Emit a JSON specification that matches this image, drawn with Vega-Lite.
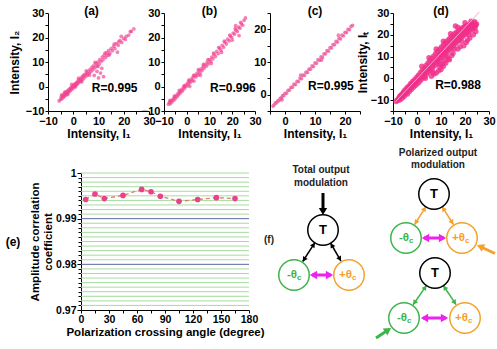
{
"$schema": "https://vega.github.io/schema/vega-lite/v6.json",
"padding": {"left": 5, "top": 5, "right": 0, "bottom": 0},
"config": {
  "font": "Liberation Sans",
  "view": {"stroke": null},
  "axis": {"grid": false, "domainColor": "#000", "tickColor": "#000", "labelColor": "#000", "titleColor": "#000", "labelFontWeight": "bold", "titleFontWeight": "bold", "labelFontSize": 11, "titleFontSize": 12, "tickSize": 3, "labelPadding": 1, "titlePadding": 2, "labelFlush": false, "labelOverlap": false, "labelBound": false, "tickCount": 100},
  "title": {"fontSize": 12, "fontWeight": "bold", "color": "#000", "offset": -11}
},
"datasets": {
  "pa": [{"x":-5.6,"y":-5.9},{"x":-5,"y":-5.3},{"x":-4.8,"y":-4.2},{"x":-4.5,"y":-5},{"x":-4.2,"y":-3.8},{"x":-4,"y":-4.5},{"x":-3.7,"y":-3.2},{"x":-3.5,"y":-4},{"x":-3.2,"y":-2.8},{"x":-3,"y":-3.5},{"x":-2.8,"y":-2.2},{"x":-2.5,"y":-3},{"x":-2.3,"y":-1.8},{"x":-2,"y":-2.6},{"x":-1.8,"y":-1.3},{"x":-1.5,"y":-2},{"x":-1.2,"y":-0.8},{"x":-1,"y":-1.5},{"x":-0.8,"y":-0.3},{"x":-0.5,"y":-1},{"x":-0.2,"y":0.2},{"x":0,"y":-0.6},{"x":0.3,"y":0.8},{"x":0.5,"y":0},{"x":0.8,"y":1.2},{"x":1,"y":0.5},{"x":1.3,"y":1.6},{"x":1.5,"y":0.9},{"x":1.8,"y":2.2},{"x":2,"y":1.4},{"x":2.3,"y":2.7},{"x":2.6,"y":1.9},{"x":3,"y":3.3},{"x":3.2,"y":2.4},{"x":3.5,"y":3.9},{"x":3.8,"y":3},{"x":4,"y":4.5},{"x":4.3,"y":3.6},{"x":4.6,"y":5},{"x":5,"y":4.2},{"x":5.3,"y":5.6},{"x":5.6,"y":4.8},{"x":6,"y":6.3},{"x":6.3,"y":5.4},{"x":6.7,"y":7},{"x":7,"y":6.1},{"x":7.4,"y":7.8},{"x":7.8,"y":6.8},{"x":8,"y":8.4},{"x":8.3,"y":4.5},{"x":8.5,"y":7.6},{"x":9,"y":9.3},{"x":9.3,"y":8.3},{"x":9.7,"y":10},{"x":10,"y":3.5},{"x":10.2,"y":9.1},{"x":10.5,"y":11},{"x":10.8,"y":5.5},{"x":11,"y":10.2},{"x":11.5,"y":12},{"x":11.8,"y":10.9},{"x":12,"y":4},{"x":12.3,"y":12.8},{"x":12.8,"y":11.8},{"x":13.2,"y":13.8},{"x":13.6,"y":12.7},{"x":14,"y":14.6},{"x":14.5,"y":13.5},{"x":15,"y":15.5},{"x":15.5,"y":14.6},{"x":16,"y":16.4},{"x":16.5,"y":15.5},{"x":17,"y":17.5},{"x":17.8,"y":16.8},{"x":18.5,"y":18.8},{"x":19.2,"y":18},{"x":20,"y":19.6},{"x":21,"y":20.5},{"x":22,"y":21},{"x":23,"y":22.5},{"x":24,"y":23.5},{"x":19,"y":20.5},{"x":17.5,"y":14},{"x":-4.6,"y":-3.4},{"x":-3.4,"y":-2.3},{"x":-2.2,"y":-3.3},{"x":-0.6,"y":0.9},{"x":0.9,"y":-0.2},{"x":2.1,"y":3.4},{"x":3.4,"y":1.9},{"x":5.1,"y":6.4},{"x":6.4,"y":4.6},{"x":8.6,"y":9.8},{"x":9.8,"y":8.2},{"x":12.6,"y":13.6},{"x":14.2,"y":12.9},{"x":16.2,"y":17.3},{"x":18,"y":18.2},{"x":20.6,"y":19.2},{"x":22.6,"y":22.4},{"x":9.4,"y":6.2},{"x":11.3,"y":7.4}],
  "pb": [{"x":-8,"y":-7.2},{"x":-7.6,"y":-6.4},{"x":-7.2,"y":-7},{"x":-6.8,"y":-5.8},{"x":-6.5,"y":-6.3},{"x":-6,"y":-5},{"x":-5.7,"y":-5.6},{"x":-5.3,"y":-4.3},{"x":-5,"y":-4.9},{"x":-4.6,"y":-3.6},{"x":-4.2,"y":-4.1},{"x":-3.8,"y":-2.8},{"x":-3.5,"y":-3.3},{"x":-3,"y":-2},{"x":-2.7,"y":-2.6},{"x":-2.2,"y":-1.2},{"x":-1.9,"y":-1.8},{"x":-1.4,"y":-0.3},{"x":-1,"y":-0.9},{"x":-0.6,"y":0.6},{"x":-0.2,"y":0},{"x":0.3,"y":1.4},{"x":0.7,"y":0.8},{"x":1.1,"y":2.2},{"x":1.5,"y":1.6},{"x":2,"y":3},{"x":2.4,"y":2.3},{"x":2.8,"y":3.8},{"x":3.2,"y":2.2},{"x":3.6,"y":4.6},{"x":4,"y":3.9},{"x":4.5,"y":5.5},{"x":4.9,"y":4.6},{"x":5.4,"y":6.4},{"x":5.8,"y":5.5},{"x":6.3,"y":7.2},{"x":6.7,"y":6.5},{"x":7.2,"y":8.2},{"x":7.6,"y":7.4},{"x":8.1,"y":9},{"x":8.6,"y":8.3},{"x":9,"y":10},{"x":9.5,"y":9.2},{"x":10,"y":11},{"x":10.5,"y":10.3},{"x":11,"y":12},{"x":11.5,"y":11.3},{"x":12,"y":13.1},{"x":12.6,"y":12.2},{"x":13.2,"y":14.3},{"x":13.8,"y":13.4},{"x":14.4,"y":15.6},{"x":15,"y":14.8},{"x":15.6,"y":16.8},{"x":16.2,"y":16},{"x":16.8,"y":18.1},{"x":17.4,"y":17.3},{"x":18,"y":19.3},{"x":18.6,"y":18.6},{"x":19.2,"y":20.6},{"x":19.8,"y":20},{"x":20.4,"y":21.8},{"x":21,"y":21.4},{"x":21.6,"y":23},{"x":22.2,"y":22.5},{"x":22.8,"y":24.2},{"x":23.4,"y":23.8},{"x":24,"y":25.6},{"x":24.6,"y":25},{"x":25.2,"y":27},{"x":25.8,"y":28},{"x":23,"y":20.8},{"x":21.5,"y":24.8},{"x":-7.4,"y":-5.7},{"x":-5.5,"y":-3.9},{"x":-3.3,"y":-1.6},{"x":-1.2,"y":0.3},{"x":0.9,"y":2.6},{"x":3,"y":4.5},{"x":5.1,"y":6.9},{"x":7.3,"y":9},{"x":9.3,"y":11},{"x":11.8,"y":13.6},{"x":14.1,"y":16},{"x":16.5,"y":18.5},{"x":18.9,"y":21},{"x":21.3,"y":23.6},{"x":23.7,"y":26.2},{"x":1.3,"y":0.1},{"x":6,"y":4.6},{"x":10.8,"y":9.4},{"x":15.3,"y":13.9},{"x":20,"y":18.9}],
  "pc": [{"x":-4,"y":-3.5},{"x":-3.6,"y":-3.1},{"x":-3.2,"y":-2.5},{"x":-2.8,"y":-2.5},{"x":-2.4,"y":-1.9},{"x":-2,"y":-1.8},{"x":-1.6,"y":-1.1},{"x":-1.2,"y":-1},{"x":-0.8,"y":-0.3},{"x":-0.4,"y":-0.3},{"x":0,"y":0.4},{"x":0.5,"y":0.4},{"x":1,"y":1.3},{"x":1.5,"y":1.4},{"x":2,"y":2.2},{"x":2.5,"y":2.3},{"x":3,"y":3.2},{"x":3.5,"y":3.1},{"x":4,"y":4.1},{"x":4.5,"y":4},{"x":5,"y":5.1},{"x":5.5,"y":4.9},{"x":6,"y":6},{"x":6.5,"y":5.9},{"x":7,"y":6.9},{"x":7.5,"y":6.8},{"x":8,"y":7.8},{"x":8.5,"y":7.8},{"x":9,"y":8.8},{"x":9.5,"y":8.6},{"x":10,"y":9.7},{"x":10.5,"y":9.6},{"x":11,"y":10.7},{"x":11.5,"y":10.5},{"x":12,"y":11.6},{"x":12.5,"y":11.4},{"x":13,"y":12.5},{"x":13.5,"y":12.5},{"x":14,"y":13.5},{"x":14.5,"y":13.3},{"x":15,"y":14.4},{"x":15.5,"y":14.3},{"x":16,"y":15.3},{"x":16.5,"y":15.3},{"x":17,"y":16.3},{"x":17.5,"y":16.1},{"x":18,"y":17.2},{"x":18.5,"y":17.1},{"x":19,"y":18.2},{"x":19.5,"y":18},{"x":20,"y":19.1},{"x":20.5,"y":19},{"x":21,"y":20},{"x":21.5,"y":19.9},{"x":22,"y":20.9},{"x":22.5,"y":21.2},{"x":5.2,"y":6},{"x":12.2,"y":10.6},{"x":-1,"y":-1.6},{"x":17.8,"y":18.2}],
  "pd": [{"x":-8.7,"y":-10.6},{"x":-8.3,"y":-9.9},{"x":-7.9,"y":-10.2},{"x":-7.6,"y":-9.1},{"x":-7.2,"y":-8.3},{"x":-7,"y":-9.8},{"x":-6.7,"y":-8.6},{"x":-6.4,"y":-7.4},{"x":-6.1,"y":-9},{"x":-5.8,"y":-7.8},{"x":-5.6,"y":-6.3},{"x":-5.3,"y":-8.2},{"x":-5,"y":-5.4},{"x":-4.8,"y":-7},{"x":-4.5,"y":-6.1},{"x":-4.2,"y":-4.3},{"x":-4,"y":-7.2},{"x":-3.7,"y":-5},{"x":-3.4,"y":-3.5},{"x":-3.2,"y":-6},{"x":-2.9,"y":-4.3},{"x":-2.6,"y":-2.4},{"x":-2.4,"y":-5.1},{"x":-2.1,"y":-3.2},{"x":-1.8,"y":-1.5},{"x":-1.6,"y":-4.2},{"x":-1.3,"y":-2.4},{"x":-1,"y":-0.6},{"x":-0.8,"y":-3.4},{"x":-0.5,"y":-1.5},{"x":-0.2,"y":0.4},{"x":0,"y":-2.6},{"x":0.3,"y":-0.6},{"x":0.6,"y":1.4},{"x":0.8,"y":-1.8},{"x":1.1,"y":0.4},{"x":1.4,"y":2.6},{"x":1.6,"y":-0.8},{"x":1.9,"y":1.5},{"x":2.2,"y":3.7},{"x":2.4,"y":0.2},{"x":2.7,"y":2.6},{"x":3,"y":4.8},{"x":3.2,"y":1},{"x":3.5,"y":3.5},{"x":3.8,"y":5.9},{"x":4,"y":2},{"x":4.3,"y":4.4},{"x":4.6,"y":7},{"x":4.8,"y":2.9},{"x":5.1,"y":5.4},{"x":5.4,"y":8.1},{"x":5.6,"y":3.8},{"x":5.9,"y":6.4},{"x":6.2,"y":9.2},{"x":6.4,"y":4.8},{"x":6.7,"y":7.5},{"x":7,"y":10.3},{"x":7.2,"y":5.7},{"x":7.5,"y":8.5},{"x":7.8,"y":11.4},{"x":8,"y":6.6},{"x":8.3,"y":9.5},{"x":8.6,"y":12.4},{"x":8.8,"y":7.6},{"x":9.1,"y":10.6},{"x":9.4,"y":13.4},{"x":9.6,"y":8.5},{"x":9.9,"y":11.6},{"x":10.2,"y":14.4},{"x":10.4,"y":9.4},{"x":10.7,"y":12.6},{"x":11,"y":15.3},{"x":11.2,"y":10.4},{"x":11.5,"y":13.6},{"x":11.8,"y":16.3},{"x":12,"y":11.3},{"x":12.3,"y":14.6},{"x":12.6,"y":17.2},{"x":12.8,"y":12.3},{"x":13.1,"y":15.5},{"x":13.4,"y":18.1},{"x":13.6,"y":13.2},{"x":13.9,"y":16.4},{"x":14.2,"y":19},{"x":14.4,"y":14.1},{"x":14.7,"y":17.4},{"x":15,"y":19.8},{"x":15.2,"y":15},{"x":15.5,"y":18.3},{"x":15.8,"y":20.6},{"x":16,"y":15.9},{"x":16.3,"y":19.1},{"x":16.6,"y":21.3},{"x":16.8,"y":16.8},{"x":17.1,"y":20},{"x":17.4,"y":22},{"x":17.6,"y":17.6},{"x":17.9,"y":20.8},{"x":18.2,"y":22.6},{"x":18.4,"y":18.5},{"x":18.7,"y":21.5},{"x":19,"y":23.2},{"x":19.2,"y":19.3},{"x":19.5,"y":22.1},{"x":19.8,"y":23.7},{"x":20,"y":20.1},{"x":20.3,"y":22.7},{"x":20.6,"y":24.1},{"x":20.8,"y":20.9},{"x":21.1,"y":23.2},{"x":21.4,"y":24.5},{"x":21.6,"y":21.6},{"x":21.9,"y":23.6},{"x":22.2,"y":24.8},{"x":22.4,"y":22.2},{"x":22.7,"y":24},{"x":23,"y":25},{"x":23.3,"y":22.8},{"x":23.6,"y":24.3},{"x":23.9,"y":25.2},{"x":24.2,"y":23.3},{"x":24.5,"y":24.5},{"x":24.8,"y":25},{"x":-6.9,"y":-8},{"x":-5.9,"y":-7},{"x":-4.9,"y":-6},{"x":-3.9,"y":-5},{"x":-2.9,"y":-3.6},{"x":-1.9,"y":-2.6},{"x":-0.9,"y":-1.7},{"x":0.1,"y":-0.5},{"x":1.1,"y":0.6},{"x":2.1,"y":1.7},{"x":3.1,"y":2.8},{"x":4.1,"y":3.9},{"x":5.1,"y":5},{"x":6.1,"y":6.1},{"x":7.1,"y":7.3},{"x":8.1,"y":8.4},{"x":9.1,"y":9.5},{"x":10.1,"y":10.7},{"x":11.1,"y":11.8},{"x":12.1,"y":12.9},{"x":13.1,"y":14},{"x":14.1,"y":15.1},{"x":15.1,"y":16.3},{"x":16.1,"y":17.4},{"x":17.1,"y":18.5},{"x":18.1,"y":19.6},{"x":19.1,"y":20.6},{"x":20.1,"y":21.5},{"x":21.1,"y":22.3},{"x":22.1,"y":23},{"x":23.1,"y":23.7},{"x":24.1,"y":24.2},{"x":2,"y":5.5},{"x":5,"y":9.5},{"x":8,"y":13.5},{"x":11,"y":17},{"x":14,"y":20.5},{"x":17,"y":23.5},{"x":20,"y":25.5},{"x":3.5,"y":0},{"x":6.5,"y":3},{"x":9.5,"y":6.5},{"x":12.5,"y":10},{"x":15.5,"y":13.5},{"x":18.5,"y":17},{"x":21.5,"y":20},{"x":16,"y":24},{"x":24,"y":26},{"x":22.5,"y":26.2},{"x":19.5,"y":15},{"x":20.5,"y":16.5},{"x":22,"y":18.5},{"x":18,"y":14.5},{"x":21,"y":17.5},{"x":23.5,"y":20},{"x":24.5,"y":21.5},{"x":17,"y":13.5},{"x":15,"y":11.5},{"x":13,"y":9},{"x":10,"y":4},{"x":9,"y":3.5},{"x":11,"y":5.5},{"x":12,"y":7},{"x":8,"y":2.5},{"x":7,"y":2},{"x":6,"y":1},{"x":13.5,"y":8.5},{"x":14.5,"y":10.5},{"x":10.5,"y":6.5},{"x":9.5,"y":5.2},{"x":11.5,"y":8}],
  "fitc": [{"x":-4,"y":-3.5},{"x":23,"y":21.6}],
  "fitd": [{"x":-9,"y":-10.8},{"x":26,"y":30.5}],
  "ecorr": [{"angle":5,"r":0.9942},{"angle":15,"r":0.9954},{"angle":25,"r":0.9944},{"angle":45,"r":0.9951},{"angle":65,"r":0.9964},{"angle":75,"r":0.9959},{"angle":85,"r":0.9949},{"angle":105,"r":0.9938},{"angle":125,"r":0.9942},{"angle":145,"r":0.9946},{"angle":165,"r":0.9944}],
  "egrid": [{"v":0.971,"kind":"minor"},{"v":0.972,"kind":"minor"},{"v":0.973,"kind":"minor"},{"v":0.974,"kind":"minor"},{"v":0.975,"kind":"minor"},{"v":0.976,"kind":"minor"},{"v":0.977,"kind":"minor"},{"v":0.978,"kind":"minor"},{"v":0.979,"kind":"minor"},{"v":0.98,"kind":"major"},{"v":0.981,"kind":"minor"},{"v":0.982,"kind":"minor"},{"v":0.983,"kind":"minor"},{"v":0.984,"kind":"minor"},{"v":0.985,"kind":"minor"},{"v":0.986,"kind":"minor"},{"v":0.987,"kind":"minor"},{"v":0.988,"kind":"minor"},{"v":0.989,"kind":"minor"},{"v":0.99,"kind":"major"},{"v":0.991,"kind":"minor"},{"v":0.992,"kind":"minor"},{"v":0.993,"kind":"minor"},{"v":0.994,"kind":"minor"},{"v":0.995,"kind":"minor"},{"v":0.996,"kind":"minor"},{"v":0.997,"kind":"minor"},{"v":0.998,"kind":"minor"},{"v":0.999,"kind":"minor"},{"v":1.0,"kind":"minor"}],
  "links": [
    {"x":52,"y":20,"x2":52,"y2":37,"channel":"total","role":"input"},
    {"x":43.9,"y":69.6,"x2":31.7,"y2":88.5,"channel":"total","role":"coupling"},
    {"x":59.5,"y":70,"x2":70,"y2":88.1,"channel":"total","role":"coupling"},
    {"x":41,"y":102,"x2":60,"y2":102,"channel":"cross","role":"cross"},
    {"x":154.9,"y":33.6,"x2":143.6,"y2":51.5,"channel":"plus","role":"coupling"},
    {"x":171.1,"y":33.6,"x2":182.4,"y2":51.5,"channel":"plus","role":"coupling"},
    {"x":153,"y":65,"x2":173,"y2":65,"channel":"cross","role":"cross"},
    {"x":224,"y":80.5,"x2":209,"y2":73.5,"channel":"plus","role":"input"},
    {"x":155.5,"y":112.4,"x2":142.1,"y2":131.8,"channel":"minus","role":"coupling"},
    {"x":172.3,"y":112.5,"x2":185.1,"y2":131.7,"channel":"minus","role":"coupling"},
    {"x":152,"y":145,"x2":175,"y2":145,"channel":"cross","role":"cross"},
    {"x":105,"y":165,"x2":117,"y2":157,"channel":"minus","role":"input"}
  ],
  "heads": [
    {"x":52,"y":38.5,"angle":180,"channel":"total","role":"input"},
    {"x":42.5,"y":71.7,"angle":32.8,"channel":"total","role":"coupling"},
    {"x":33.1,"y":86.4,"angle":-147.2,"channel":"total","role":"coupling"},
    {"x":60.8,"y":72.2,"angle":-30,"channel":"total","role":"coupling"},
    {"x":68.8,"y":85.9,"angle":150,"channel":"total","role":"coupling"},
    {"x":42.5,"y":102,"angle":-90,"channel":"cross","role":"cross"},
    {"x":58.5,"y":102,"angle":90,"channel":"cross","role":"cross"},
    {"x":153.6,"y":35.7,"angle":32.5,"channel":"plus","role":"coupling"},
    {"x":144.9,"y":49.4,"angle":-147.5,"channel":"plus","role":"coupling"},
    {"x":172.4,"y":35.7,"angle":-32.5,"channel":"plus","role":"coupling"},
    {"x":181.1,"y":49.4,"angle":147.5,"channel":"plus","role":"coupling"},
    {"x":154.5,"y":65,"angle":-90,"channel":"cross","role":"cross"},
    {"x":171.5,"y":65,"angle":90,"channel":"cross","role":"cross"},
    {"x":209.2,"y":73.5,"angle":-64.7,"channel":"plus","role":"input"},
    {"x":154.1,"y":114.5,"angle":34.6,"channel":"minus","role":"coupling"},
    {"x":143.5,"y":129.7,"angle":-145.4,"channel":"minus","role":"coupling"},
    {"x":173.7,"y":114.6,"angle":-33.7,"channel":"minus","role":"coupling"},
    {"x":183.7,"y":129.6,"angle":146.3,"channel":"minus","role":"coupling"},
    {"x":153.5,"y":145,"angle":-90,"channel":"cross","role":"cross"},
    {"x":173.5,"y":145,"angle":90,"channel":"cross","role":"cross"},
    {"x":117.1,"y":156.9,"angle":56.3,"channel":"minus","role":"input"}
  ],
  "nodes": [
    {"x":52,"y":57,"node":"T","label":"T","sub":"","channel":"total"},
    {"x":23,"y":102,"node":"minus","label":"-θ","sub":"c","channel":"minus"},
    {"x":78,"y":102,"node":"plus","label":"+θ","sub":"c","channel":"plus"},
    {"x":163,"y":21,"node":"T","label":"T","sub":"","channel":"total"},
    {"x":135,"y":65,"node":"minus","label":"-θ","sub":"c","channel":"minus"},
    {"x":191,"y":65,"node":"plus","label":"+θ","sub":"c","channel":"plus"},
    {"x":164,"y":100,"node":"T","label":"T","sub":"","channel":"total"},
    {"x":133,"y":145,"node":"minus","label":"-θ","sub":"c","channel":"minus"},
    {"x":194,"y":145,"node":"plus","label":"+θ","sub":"c","channel":"plus"}
  ],
  "captions": [
    {"x":50,"y":-3,"label":"Total output"},
    {"x":50,"y":10,"label":"modulation"},
    {"x":167,"y":-20,"label":"Polarized output"},
    {"x":167,"y":-8,"label":"modulation"},
    {"x":-2,"y":67,"label":"(f)"}
  ]
},
"spacing": 9,
"resolve": {"scale": {"color": "independent"}},
"vconcat": [
  {
    "bounds": "flush",
    "spacing": 15,
    "hconcat": [
      {
        "width": 101, "height": 98,
        "title": {"text": "(a)", "dx": -7},
        "layer": [
          {"data": {"name": "pa"}, "mark": {"type": "point", "filled": true, "size": 14, "opacity": 0.65, "color": "#ef3f8e"},
           "encoding": {
             "x": {"field": "x", "type": "quantitative", "scale": {"domain": [-10, 30], "nice": false, "zero": false}, "axis": {"values": [-10,-5,0,5,10,15,20,25,30], "format": "d", "labelExpr": "datum.value % 10 == 0 ? datum.label : ''", "title": "Intensity, I₁"}},
             "y": {"field": "y", "type": "quantitative", "scale": {"domain": [-10, 30], "nice": false, "zero": false}, "axis": {"values": [-10,-5,0,5,10,15,20,25,30], "format": "d", "labelExpr": "datum.value % 10 == 0 ? datum.label : ''", "title": "Intensity, I₂", "titlePadding": 4}}}},
          {"data": {"values": [{"R": 0.995}]}, "transform": [{"calculate": "'R=' + format(datum.R, '.3f')", "as": "lab"}],
           "mark": {"type": "text", "fontWeight": "bold", "fontSize": 12, "color": "#000"},
           "encoding": {"x": {"datum": 16.4}, "y": {"datum": -0.6}, "text": {"field": "lab"}}}
        ]
      },
      {
        "width": 91, "height": 98,
        "title": {"text": "(b)"},
        "layer": [
          {"data": {"name": "pb"}, "mark": {"type": "point", "filled": true, "size": 14, "opacity": 0.65, "color": "#ef3f8e"},
           "encoding": {
             "x": {"field": "x", "type": "quantitative", "scale": {"domain": [-10, 30], "nice": false, "zero": false}, "axis": {"values": [-10,-5,0,5,10,15,20,25,30], "format": "d", "labelExpr": "datum.value % 10 == 0 ? datum.label : ''", "title": "Intensity, I₁"}},
             "y": {"field": "y", "type": "quantitative", "scale": {"domain": [-10, 30], "nice": false, "zero": false}, "axis": {"values": [-10,-5,0,5,10,15,20,25,30], "format": "d", "labelExpr": "datum.value % 10 == 0 ? datum.label : ''", "title": null}}}},
          {"data": {"values": [{"R": 0.996}]}, "transform": [{"calculate": "'R=' + format(datum.R, '.3f')", "as": "lab"}],
           "mark": {"type": "text", "fontWeight": "bold", "fontSize": 12, "color": "#000"},
           "encoding": {"x": {"datum": 20.3}, "y": {"datum": -0.6}, "text": {"field": "lab"}}}
        ]
      },
      {
        "width": 90, "height": 98,
        "title": {"text": "(c)"},
        "layer": [
          {"data": {"name": "pc"}, "mark": {"type": "point", "filled": true, "size": 14, "opacity": 0.65, "color": "#ef3f8e"},
           "encoding": {
             "x": {"field": "x", "type": "quantitative", "scale": {"domain": [-5, 25], "nice": false, "zero": false}, "axis": {"values": [-5,0,5,10,15,20,25], "format": "d", "labelExpr": "datum.value % 10 == 0 ? datum.label : ''", "title": "Intensity, I₁"}},
             "y": {"field": "y", "type": "quantitative", "scale": {"domain": [-5, 25], "nice": false, "zero": false}, "axis": {"values": [-5,0,5,10,15,20,25], "format": "d", "labelExpr": "datum.value % 10 == 0 ? datum.label : ''", "title": null}}}},
          {"data": {"name": "fitc"}, "mark": {"type": "line", "color": "#f07aa8", "strokeWidth": 1},
           "encoding": {"x": {"field": "x", "type": "quantitative"}, "y": {"field": "y", "type": "quantitative"}}},
          {"data": {"values": [{"R": 0.995}]}, "transform": [{"calculate": "'R=' + format(datum.R, '.3f')", "as": "lab"}],
           "mark": {"type": "text", "fontWeight": "bold", "fontSize": 12, "color": "#000"},
           "encoding": {"x": {"datum": 15.3}, "y": {"datum": 2.7}, "text": {"field": "lab"}}}
        ]
      },
      {
        "width": 3, "height": 98,
        "data": {"values": []},
        "mark": {"type": "point", "opacity": 0},
        "encoding": {}
      },
      {
        "width": 96, "height": 98,
        "title": {"text": "(d)"},
        "layer": [
          {"data": {"name": "pd"}, "mark": {"type": "point", "filled": true, "size": 30, "opacity": 0.8, "color": "#f0308a"},
           "encoding": {
             "x": {"field": "x", "type": "quantitative", "scale": {"domain": [-10, 30], "nice": false, "zero": false}, "axis": {"values": [-10,-5,0,5,10,15,20,25,30], "format": "d", "labelExpr": "datum.value % 10 == 0 ? datum.label : ''", "title": "Intensity, I₁"}},
             "y": {"field": "y", "type": "quantitative", "scale": {"domain": [-15, 30], "nice": false, "zero": false}, "axis": {"values": [-15,-10,-5,0,5,10,15,20,25,30], "format": "d", "labelExpr": "datum.value % 10 == 0 ? datum.label : ''", "title": "Intensity, Iₜ", "titlePadding": 1}}}},
          {"data": {"name": "fitd"}, "mark": {"type": "line", "color": "#f4a8c6", "strokeWidth": 1},
           "encoding": {"x": {"field": "x", "type": "quantitative"}, "y": {"field": "y", "type": "quantitative"}}},
          {"data": {"values": [{"R": 0.988}]}, "transform": [{"calculate": "'R=' + format(datum.R, '.3f')", "as": "lab"}],
           "mark": {"type": "text", "fontWeight": "bold", "fontSize": 12, "color": "#000"},
           "encoding": {"x": {"datum": 17.1}, "y": {"datum": -3.1}, "text": {"field": "lab"}}}
        ]
      }
    ]
  },
  {
    "bounds": "flush",
    "spacing": 15,
    "resolve": {"scale": {"color": "independent"}},
    "hconcat": [
      {
        "width": 18, "height": 137,
        "data": {"values": [{"label": "(e)"}]},
        "mark": {"type": "text", "fontSize": 12, "fontWeight": "bold", "color": "#000", "dx": -44},
        "encoding": {"text": {"field": "label"}}
      },
      {
        "width": 168, "height": 137,
        "layer": [
          {"data": {"name": "egrid"}, "mark": {"type": "rule", "strokeWidth": 1},
           "encoding": {
             "y": {"field": "v", "type": "quantitative", "scale": {"domain": [0.97, 1], "nice": false, "zero": false},
                   "axis": {"orient": "left", "values": [0.971,0.972,0.973,0.974,0.975,0.976,0.977,0.978,0.979,0.981,0.982,0.983,0.984,0.985,0.986,0.987,0.988,0.989,0.991,0.992,0.993,0.994,0.995,0.996,0.997,0.998,0.999], "labels": false, "title": null, "domain": false, "tickSize": 3}},
             "color": {"field": "kind", "type": "nominal", "scale": {"domain": ["minor", "major"], "range": ["#a6dc9f", "#6264a8"]}, "legend": null}}},
          {"data": {"name": "ecorr"}, "mark": {"type": "line", "strokeDash": [4, 3], "color": "#d4826a", "strokeWidth": 1.3},
           "encoding": {
             "x": {"field": "angle", "type": "quantitative", "scale": {"domain": [0, 180], "nice": false, "zero": false},
                   "axis": {"values": [0,15,30,45,60,75,90,105,120,135,150,165,180], "format": "d", "labelExpr": "datum.value % 30 == 0 ? datum.label : ''", "title": "Polarization crossing angle (degree)", "labelFontSize": 10.5, "titleFontSize": 11.5, "tickSize": 3}},
             "y": {"field": "r", "type": "quantitative", "scale": {"domain": [0.97, 1], "nice": false, "zero": false},
                   "axis": {"orient": "left", "values": [0.97, 0.98, 0.99, 1], "format": ".2~f", "title": ["Amplitude correlation", "coefficient"], "labelFontSize": 10.5, "titleFontSize": 11.5, "tickSize": 4, "titlePadding": 2}}}},
          {"data": {"name": "ecorr"}, "mark": {"type": "point", "filled": true, "size": 32, "opacity": 1, "color": "#ec3f8e"},
           "encoding": {
             "x": {"field": "angle", "type": "quantitative"},
             "y": {"field": "r", "type": "quantitative", "axis": null}}}
        ],
        "resolve": {"axis": {"y": "independent"}}
      },
      {
        "width": 234, "height": 170,
        "layer": [
          {"data": {"name": "links"}, "transform": [{"filter": "datum.role == 'coupling'"}], "mark": {"type": "rule", "strokeWidth": 1.5},
           "encoding": {
             "x": {"field": "x", "type": "quantitative", "scale": {"domain": [-7, 227], "nice": false, "zero": false}, "axis": null},
             "y": {"field": "y", "type": "quantitative", "scale": {"domain": [0, 170], "nice": false, "zero": false, "reverse": true}, "axis": null},
             "x2": {"field": "x2"}, "y2": {"field": "y2"},
             "color": {"field": "channel", "type": "nominal", "scale": {"domain": ["total", "plus", "minus", "cross"], "range": ["#000000", "#f4a12c", "#3db54a", "#ee22ee"]}, "legend": null}}},
          {"data": {"name": "links"}, "transform": [{"filter": "datum.role != 'coupling'"}], "mark": {"type": "rule", "strokeWidth": 3},
           "encoding": {
             "x": {"field": "x", "type": "quantitative"}, "y": {"field": "y", "type": "quantitative"},
             "x2": {"field": "x2"}, "y2": {"field": "y2"},
             "color": {"field": "channel", "type": "nominal", "legend": null}}},
          {"data": {"name": "heads"}, "transform": [{"filter": "datum.role == 'coupling'"}], "mark": {"type": "point", "shape": "triangle-up", "filled": true, "size": 30, "opacity": 1},
           "encoding": {
             "x": {"field": "x", "type": "quantitative"}, "y": {"field": "y", "type": "quantitative"},
             "angle": {"field": "angle", "type": "quantitative", "scale": null},
             "color": {"field": "channel", "type": "nominal", "legend": null}}},
          {"data": {"name": "heads"}, "transform": [{"filter": "datum.role != 'coupling'"}], "mark": {"type": "point", "shape": "triangle-up", "filled": true, "size": 70, "opacity": 1},
           "encoding": {
             "x": {"field": "x", "type": "quantitative"}, "y": {"field": "y", "type": "quantitative"},
             "angle": {"field": "angle", "type": "quantitative", "scale": null},
             "color": {"field": "channel", "type": "nominal", "legend": null}}},
          {"data": {"name": "nodes"}, "mark": {"type": "point", "shape": "circle", "filled": false, "size": 930, "strokeWidth": 1.5, "opacity": 1},
           "encoding": {
             "x": {"field": "x", "type": "quantitative"}, "y": {"field": "y", "type": "quantitative"},
             "color": {"field": "channel", "type": "nominal", "legend": null}}},
          {"data": {"name": "nodes"}, "transform": [{"filter": "datum.node == 'T'"}], "mark": {"type": "text", "fontSize": 13, "fontWeight": "bold", "baseline": "middle"},
           "encoding": {
             "x": {"field": "x", "type": "quantitative"}, "y": {"field": "y", "type": "quantitative"},
             "text": {"field": "label"},
             "color": {"field": "channel", "type": "nominal", "legend": null}}},
          {"data": {"name": "nodes"}, "transform": [{"filter": "datum.node != 'T'"}], "mark": {"type": "text", "fontSize": 11.5, "fontWeight": "bold", "baseline": "middle", "align": "right", "dx": 3},
           "encoding": {
             "x": {"field": "x", "type": "quantitative"}, "y": {"field": "y", "type": "quantitative"},
             "text": {"field": "label"},
             "color": {"field": "channel", "type": "nominal", "legend": null}}},
          {"data": {"name": "nodes"}, "transform": [{"filter": "datum.node != 'T'"}], "mark": {"type": "text", "fontSize": 8, "fontWeight": "bold", "baseline": "middle", "align": "left", "dx": 3, "dy": 3},
           "encoding": {
             "x": {"field": "x", "type": "quantitative"}, "y": {"field": "y", "type": "quantitative"},
             "text": {"field": "sub"},
             "color": {"field": "channel", "type": "nominal", "legend": null}}},
          {"data": {"name": "captions"}, "mark": {"type": "text", "fontSize": 10, "fontWeight": "bold", "baseline": "middle", "color": "#222"},
           "encoding": {
             "x": {"field": "x", "type": "quantitative"}, "y": {"field": "y", "type": "quantitative"},
             "text": {"field": "label"}}}
        ]
      }
    ]
  }
]
}
